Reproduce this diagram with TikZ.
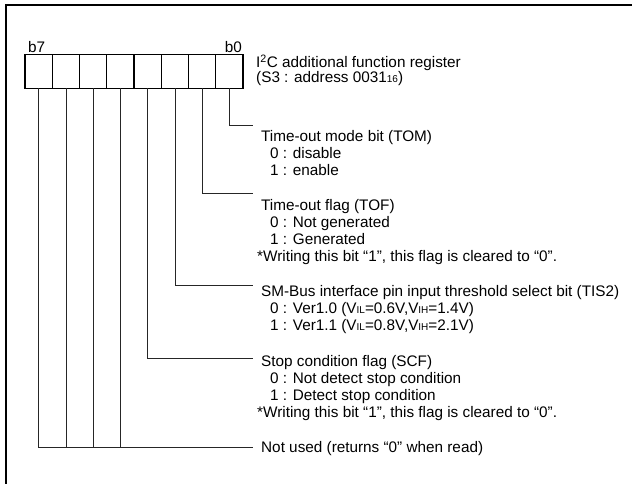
\documentclass[tikz,border=0pt]{standalone}
\usepackage{fontspec}
\setmainfont{Liberation Sans}
\newcommand{\smallsub}[1]{{\fontsize{10}{10}\selectfont #1}}
\begin{document}
\begin{tikzpicture}[x=1pt,y=-1pt,
  cell/.style={draw,line width=1.4pt,minimum width=27.25pt,minimum height=33.5pt,inner sep=0pt,outer sep=0pt},
  conn/.style={line width=0.8pt,black!85},
  tline/.style={anchor=base west,inner sep=0pt,font=\fontsize{15.3}{17.2}\selectfont},
  frame/.style={line width=1.8pt}]
\useasboundingbox (0,0) rectangle (632,483);
\draw[frame] (6,5) rectangle (650,500);
% register cells
\foreach \i in {0,...,7}{
  \node[cell] (c\i) at ({229.4-27.25*\i},71.5) {};
}
\node[tline] (b7) at (28,52.5) {b7};
\node[tline,anchor=base east] (b0) at (242,52.5) {b0};
\node[tline] (h1) at (256,67.5) {I\textsuperscript{2}C additional function register};
\node[tline] (h2) at (256,82.5) {(S3 : address 0031\smallsub{16})};
% line ends
\coordinate (e0) at (253,125);
\coordinate (e1) at (253,193);
\coordinate (e2) at (253,285);
\coordinate (e3) at (253,358);
\coordinate (e4) at (253,447);
\draw[conn] (c0.south) |- (e0);
\draw[conn] (c1.south) |- (e1);
\draw[conn] (c2.south) |- (e2);
\draw[conn] (c3.south) |- (e3);
\draw[conn] (c7.south) |- (e4);
\draw[conn] (c6.south) -- (c6.south |- e4);
\draw[conn] (c5.south) -- (c5.south |- e4);
\draw[conn] (c4.south) -- (c4.south |- e4);
% TOM
\node[tline] (t0a) at (261,141.5) {Time-out mode bit (TOM)};
\node[tline] (t0b) at (270,158.7) {0 : disable};
\node[tline] (t0c) at (270,175.9) {1 : enable};
% TOF
\node[tline] (t1a) at (261,210.3) {Time-out flag (TOF)};
\node[tline] (t1b) at (270,227.5) {0 : Not generated};
\node[tline] (t1c) at (270,244.7) {1 : Generated};
\node[tline] (t1d) at (257,261.9) {*Writing this bit “1”, this flag is cleared to “0”.};
% TIS2
\node[tline] (t2a) at (261,296.3) {SM-Bus interface pin input threshold select bit (TIS2)};
\node[tline] (t2b) at (270,313.5) {0 : Ver1.0 (V\smallsub{IL}=0.6V,V\smallsub{IH}=1.4V)};
\node[tline] (t2c) at (270,330.7) {1 : Ver1.1 (V\smallsub{IL}=0.8V,V\smallsub{IH}=2.1V)};
% SCF
\node[tline] (t3a) at (261,366) {Stop condition flag (SCF)};
\node[tline] (t3b) at (270,383.2) {0 : Not detect stop condition};
\node[tline] (t3c) at (270,400.4) {1 : Detect stop condition};
\node[tline] (t3d) at (257,417.6) {*Writing this bit “1”, this flag is cleared to “0”.};
% Not used
\node[tline] (t4a) at (261,452.5) {Not used (returns “0” when read)};
\end{tikzpicture}
\end{document}
